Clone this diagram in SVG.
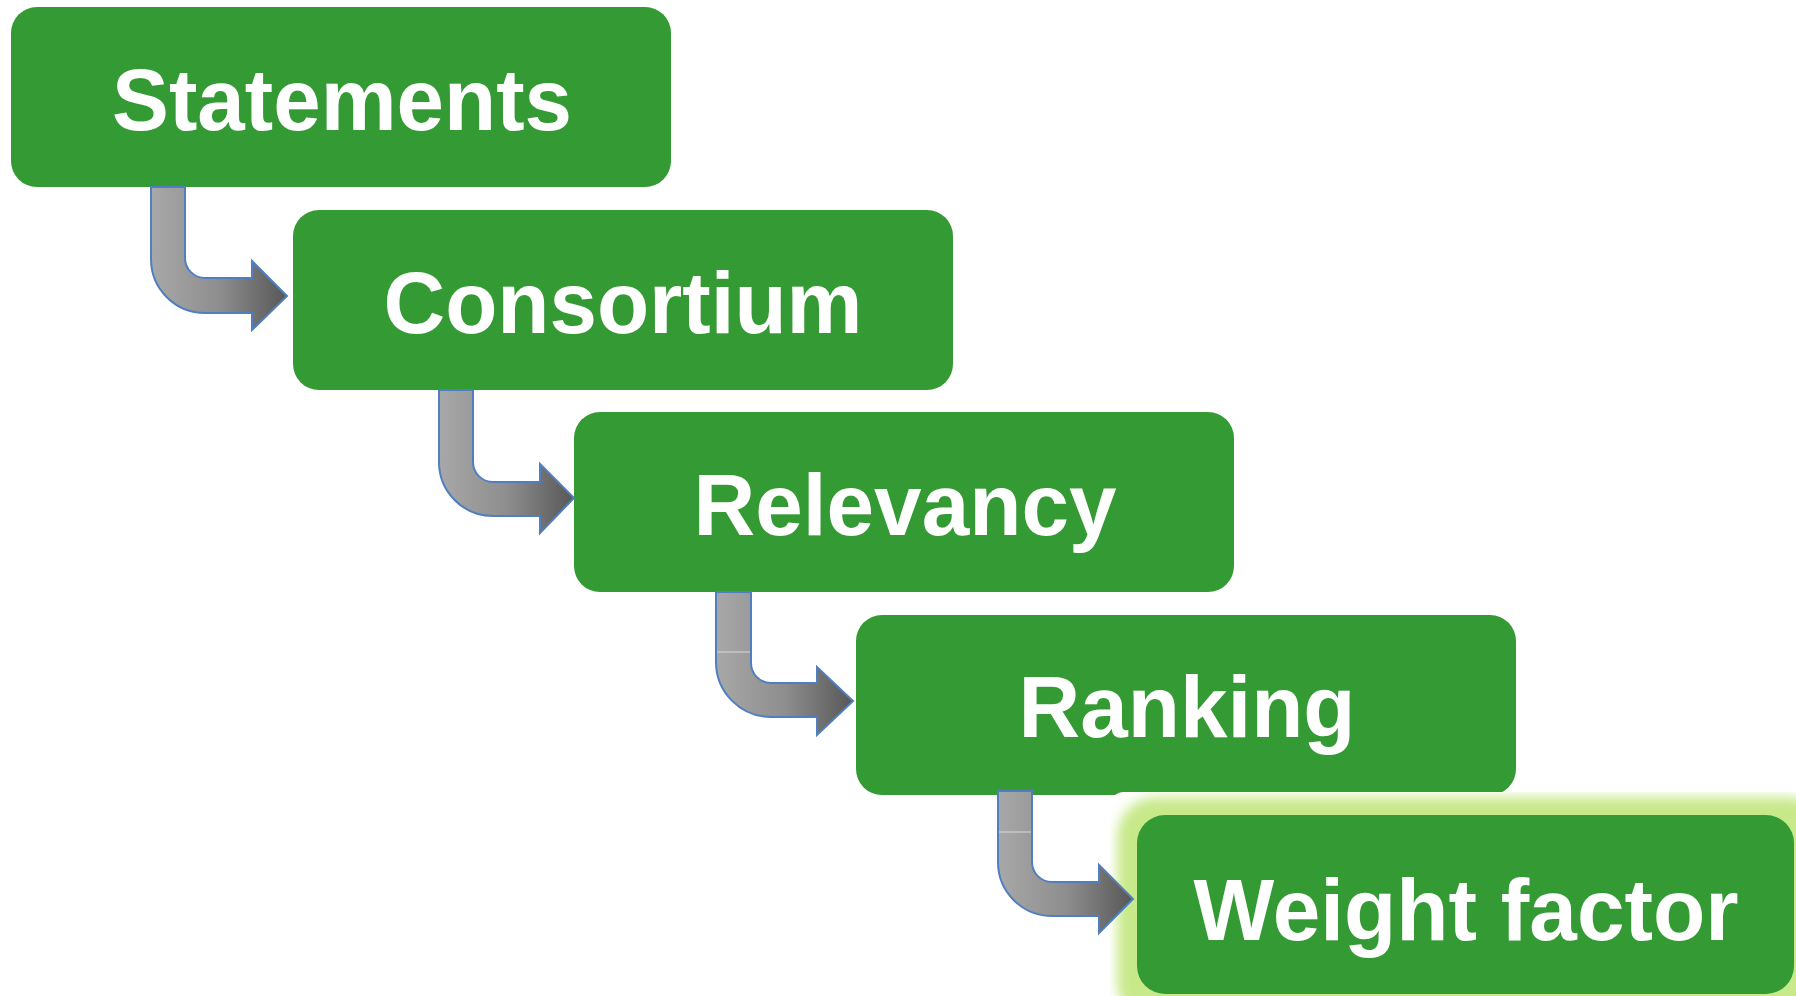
<svg xmlns="http://www.w3.org/2000/svg" width="1796" height="996" viewBox="0 0 1796 996">
  <style>
    .box { fill: #349a34; }
    .lbl { font-family: "Liberation Sans", Arial, sans-serif; font-weight: bold; font-size: 87px; fill: #ffffff; text-anchor: middle; }
    .arrow { fill: url(#arrowGrad); stroke: #4f7fc0; stroke-width: 2; stroke-linejoin: miter; }
    .seam { stroke: #d9d9d9; stroke-width: 1; }
  </style>
  <defs>
    <linearGradient id="arrowGrad" x1="0" y1="0" x2="1" y2="0">
      <stop offset="0" stop-color="#a8a8a8"/>
      <stop offset="0.5" stop-color="#8e8e8e"/>
      <stop offset="1" stop-color="#575757"/>
    </linearGradient>
    <filter id="glowBlur" x="-10%" y="-20%" width="120%" height="140%">
      <feGaussianBlur stdDeviation="6"/>
    </filter>
    <clipPath id="glowClip">
      <rect x="1110" y="792" width="720" height="230" rx="14"/>
    </clipPath>
  </defs>
  <rect x="0" y="0" width="1796" height="996" fill="#ffffff"/>

  <g id="node-statements">
    <rect class="box" x="11" y="7" width="660" height="180" rx="26"/>
    <text class="lbl" x="342" y="130" textLength="460" lengthAdjust="spacingAndGlyphs">Statements</text>
  </g>
  <g id="node-consortium">
    <rect class="box" x="293" y="210" width="660" height="180" rx="26"/>
    <text class="lbl" x="623" y="333" textLength="479" lengthAdjust="spacingAndGlyphs">Consortium</text>
  </g>
  <g id="node-relevancy">
    <rect class="box" x="574" y="412" width="660" height="180" rx="26"/>
    <text class="lbl" x="905" y="535" textLength="423" lengthAdjust="spacingAndGlyphs">Relevancy</text>
  </g>
  <g id="node-ranking">
    <rect class="box" x="856" y="615" width="660" height="180" rx="26"/>
    <text class="lbl" x="1187" y="737" textLength="337" lengthAdjust="spacingAndGlyphs">Ranking</text>
  </g>
  <g id="node-weight-factor">
    <rect x="1110" y="792" width="720" height="230" rx="14" fill="#ffffff"/>
    <g clip-path="url(#glowClip)">
      <rect x="1117" y="797" width="710" height="225" rx="40" fill="#c8e98a" filter="url(#glowBlur)"/>
    </g>
    <rect class="box" x="1137" y="815" width="657" height="179" rx="28"/>
    <text class="lbl" x="1466" y="940" textLength="545" lengthAdjust="spacingAndGlyphs">Weight factor</text>
  </g>

  <g id="connectors">
    <path class="arrow" d="M151,187 H185 V258 A20,20 0 0 0 205,278 H252 V261 L287,296 L252,330 V313 H205 A54,54 0 0 1 151,259 Z"/>
    <path class="arrow" d="M439,390 H473 V462 A20,20 0 0 0 493,482 H540 V464 L574,498 L540,533 V516 H493 A54,54 0 0 1 439,462 Z"/>
    <path class="arrow" d="M716,592 H751 V663 A20,20 0 0 0 771,683 H817 V667 L853,701 L817,735 V717 H771 A55,55 0 0 1 716,662 Z"/>
    <line class="seam" x1="717" y1="652" x2="750" y2="652"/>
    <path class="arrow" d="M998,791 H1032 V862 A20,20 0 0 0 1052,882 H1099 V865 L1133,899 L1099,933 V916 H1052 A54,54 0 0 1 998,862 Z"/>
    <line class="seam" x1="999" y1="832" x2="1031" y2="832"/>
  </g>
</svg>
